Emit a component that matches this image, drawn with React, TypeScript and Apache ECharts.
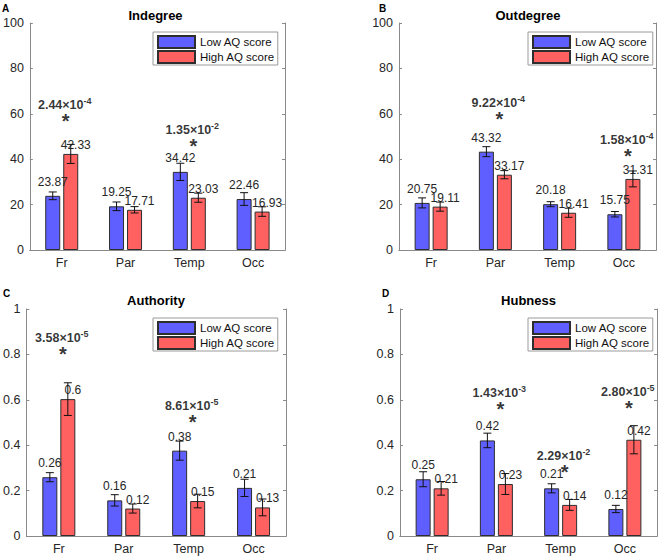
import React, { useEffect, useRef } from 'react';
import * as echarts from 'echarts';

const categories = ['Fr', 'Par', 'Temp', 'Occ'];
const seriesNames = ['Low AQ score', 'High AQ score'];
const panelTitles = ['Indegree', 'Outdegree', 'Authority', 'Hubness'];
const panelLetters = ['A', 'B', 'C', 'D'];

// A: Indegree
const indegreeLow = [23.87, 19.25, 34.42, 22.46];
const indegreeHigh = [42.33, 17.71, 23.03, 16.93];
const indegreeLowErr = [1.7, 1.9, 3.8, 2.8];
const indegreeHighErr = [4.2, 1.4, 2.0, 2.1];
const indegreeSigCat = [0, 2];
const indegreeSigY = [58.4, 47.7];
const indegreeSigMant = ['2.44', '1.35'];
const indegreeSigExp = ['-4', '-2'];

// B: Outdegree
const outdegreeLow = [20.75, 43.32, 20.18, 15.75];
const outdegreeHigh = [19.11, 33.17, 16.41, 31.31];
const outdegreeLowErr = [2.2, 2.2, 1.1, 1.2];
const outdegreeHighErr = [2.0, 1.8, 2.0, 3.5];
const outdegreeSigCat = [1, 3];
const outdegreeSigY = [59.4, 43.3];
const outdegreeSigMant = ['9.22', '1.58'];
const outdegreeSigExp = ['-4', '-4'];

// C: Authority
const authorityLow = [0.259, 0.157, 0.376, 0.212];
const authorityHigh = [0.603, 0.121, 0.154, 0.126];
const authorityLowErr = [0.02, 0.025, 0.042, 0.038];
const authorityHighErr = [0.072, 0.02, 0.03, 0.037];
const authoritySigCat = [0, 2];
const authoritySigY = [0.818, 0.519];
const authoritySigMant = ['3.58', '8.61'];
const authoritySigExp = ['-5', '-5'];

// D: Hubness
const hubnessLow = [0.25, 0.421, 0.21, 0.119];
const hubnessHigh = [0.21, 0.229, 0.137, 0.424];
const hubnessLowErr = [0.033, 0.032, 0.02, 0.016];
const hubnessHighErr = [0.03, 0.046, 0.024, 0.062];
const hubnessSigCat = [1, 2, 3];
const hubnessSigY = [0.578, 0.301, 0.581];
const hubnessSigMant = ['1.43', '2.29', '2.80'];
const hubnessSigExp = ['-3', '-2', '-5'];

const countAxisMax = 100;
const countAxisStep = 20;
const scoreAxisMax = 1;
const scoreAxisStep = 0.2;

const panels = [
  { low: indegreeLow, high: indegreeHigh, lowErr: indegreeLowErr, highErr: indegreeHighErr, sigCat: indegreeSigCat, sigY: indegreeSigY, sigMant: indegreeSigMant, sigExp: indegreeSigExp, max: countAxisMax, step: countAxisStep },
  { low: outdegreeLow, high: outdegreeHigh, lowErr: outdegreeLowErr, highErr: outdegreeHighErr, sigCat: outdegreeSigCat, sigY: outdegreeSigY, sigMant: outdegreeSigMant, sigExp: outdegreeSigExp, max: countAxisMax, step: countAxisStep },
  { low: authorityLow, high: authorityHigh, lowErr: authorityLowErr, highErr: authorityHighErr, sigCat: authoritySigCat, sigY: authoritySigY, sigMant: authoritySigMant, sigExp: authoritySigExp, max: scoreAxisMax, step: scoreAxisStep },
  { low: hubnessLow, high: hubnessHigh, lowErr: hubnessLowErr, highErr: hubnessHighErr, sigCat: hubnessSigCat, sigY: hubnessSigY, sigMant: hubnessSigMant, sigExp: hubnessSigExp, max: scoreAxisMax, step: scoreAxisStep },
];

const FONT = "'Liberation Sans', Arial, Helvetica, sans-serif";
const AXIS_COLOR = '#8a8a8a';
const TEXT_COLOR = '#262626';
const BLUE = '#5F5FFF';
const RED = '#FF6060';
const EDGE = '#2e2e2e';
const BAR_W = 15;
const BAR_GAP = 3;

const grids = [
  { left: 26, top: 23, width: 259, height: 227 },
  { left: 399, top: 23, width: 257, height: 227 },
  { left: 26, top: 309, width: 260, height: 227 },
  { left: 400, top: 309, width: 257, height: 227 },
];
const legendPos = [
  { left: 153, top: 32 },
  { left: 528, top: 32 },
  { left: 153, top: 318 },
  { left: 528, top: 318 },
];
const titlePos = [
  { x: 155.5, y: 15 },
  { x: 528, y: 15 },
  { x: 156, y: 300 },
  { x: 528.5, y: 300 },
];
const letterPos = [
  { x: 2, y: 8 },
  { x: 379, y: 8 },
  { x: 3, y: 293 },
  { x: 382, y: 293 },
];

function fmtLabel(v: number) {
  return String(Number(v.toFixed(2)));
}

function errorRenderer(offset: number) {
  return (params: any, api: any) => {
    const cat = api.value(0);
    const lo = api.value(1);
    const hi = api.value(2);
    const pTop = api.coord([cat, hi]);
    const pBot = api.coord([cat, lo]);
    const x = pTop[0] + offset;
    const cap = 4;
    const style = { stroke: '#111', lineWidth: 1 };
    return {
      type: 'group',
      children: [
        { type: 'line', shape: { x1: x, y1: pTop[1], x2: x, y2: pBot[1] }, style },
        { type: 'line', shape: { x1: x - cap, y1: pTop[1], x2: x + cap, y2: pTop[1] }, style },
        { type: 'line', shape: { x1: x - cap, y1: pBot[1], x2: x + cap, y2: pBot[1] }, style },
      ],
    };
  };
}

function buildOption() {
  const xAxis: any[] = [];
  const yAxis: any[] = [];
  const series: any[] = [];
  const legend: any[] = [];
  const graphic: any[] = [];

  panels.forEach((p, i) => {
    xAxis.push({
      type: 'category', gridIndex: i, data: categories, position: 'bottom',
      axisLine: { lineStyle: { color: AXIS_COLOR } },
      axisTick: { inside: true, alignWithLabel: true, length: 3, lineStyle: { color: AXIS_COLOR } },
      axisLabel: { color: TEXT_COLOR, fontSize: 12.5, fontFamily: FONT, margin: 6 },
    });
    xAxis.push({
      type: 'category', gridIndex: i, data: categories, position: 'top',
      axisLine: { lineStyle: { color: AXIS_COLOR } },
      axisTick: { inside: true, alignWithLabel: true, length: 3, lineStyle: { color: AXIS_COLOR } },
      axisLabel: { show: false },
    });
    yAxis.push({
      type: 'value', gridIndex: i, min: 0, max: p.max, interval: p.step, position: 'left',
      axisLine: { show: true, lineStyle: { color: AXIS_COLOR } },
      axisTick: { show: true, inside: true, length: 3, lineStyle: { color: AXIS_COLOR } },
      axisLabel: { color: TEXT_COLOR, fontSize: 12.5, fontFamily: FONT, margin: 6 },
      splitLine: { show: false },
    });
    yAxis.push({
      type: 'value', gridIndex: i, min: 0, max: p.max, interval: p.step, position: 'right',
      axisLine: { show: true, lineStyle: { color: AXIS_COLOR } },
      axisTick: { show: true, inside: true, length: 3, lineStyle: { color: AXIS_COLOR } },
      axisLabel: { show: false },
      splitLine: { show: false },
    });
    const xi = 2 * i;
    const yi = 2 * i;
    const barCommon = {
      type: 'bar', xAxisIndex: xi, yAxisIndex: yi, barWidth: BAR_W, barGap: '20%',
    };
    series.push({
      ...barCommon, name: seriesNames[0], data: p.low,
      itemStyle: { color: BLUE, borderColor: EDGE, borderWidth: 1 },
      label: { show: true, position: 'top', distance: 8, color: TEXT_COLOR, fontSize: 12, fontFamily: FONT, formatter: (q: any) => fmtLabel(q.value) },
      z: 2,
    });
    series.push({
      ...barCommon, name: seriesNames[1], data: p.high,
      itemStyle: { color: RED, borderColor: EDGE, borderWidth: 1 },
      label: { show: true, position: 'top', distance: 3, offset: [5, 0], color: TEXT_COLOR, fontSize: 12, fontFamily: FONT, formatter: (q: any) => fmtLabel(q.value) },
      z: 2,
    });
    const off = (BAR_W + BAR_GAP) / 2;
    series.push({
      type: 'custom', name: 'errLow' + i, xAxisIndex: xi, yAxisIndex: yi,
      renderItem: errorRenderer(-off), silent: true, z: 5,
      encode: { x: 0, y: [1, 2] },
      data: p.low.map((v, k) => [k, v - p.lowErr[k], v + p.lowErr[k]]),
    });
    series.push({
      type: 'custom', name: 'errHigh' + i, xAxisIndex: xi, yAxisIndex: yi,
      renderItem: errorRenderer(off), silent: true, z: 5,
      encode: { x: 0, y: [1, 2] },
      data: p.high.map((v, k) => [k, v - p.highErr[k], v + p.highErr[k]]),
    });
    series.push({
      type: 'scatter', name: 'star' + i, xAxisIndex: xi, yAxisIndex: yi,
      symbolSize: 0, silent: true, z: 6,
      data: p.sigCat.map((c, k) => [c, p.sigY[k]]),
      label: {
        show: true, position: 'inside', offset: [4, 4], formatter: '*',
        fontSize: 20, fontWeight: 'bold', color: '#000', fontFamily: FONT,
      },
    });
    series.push({
      type: 'scatter', name: 'pval' + i, xAxisIndex: xi, yAxisIndex: yi,
      symbolSize: 0, silent: true, z: 6,
      data: p.sigCat.map((c, k) => [c, p.sigY[k]]),
      label: {
        show: true, position: 'inside', offset: [3, -13],
        formatter: (q: any) => `{m|${p.sigMant[q.dataIndex]}×10}{s|${p.sigExp[q.dataIndex]}}`,
        rich: {
          m: { fontSize: 12.5, fontWeight: 'bold', color: '#000', fontFamily: FONT, verticalAlign: 'bottom' },
          s: { fontSize: 9, fontWeight: 'bold', color: '#000', fontFamily: FONT, verticalAlign: 'bottom', padding: [0, 0, 6, 0] },
        },
      },
    });

    legend.push({
      data: seriesNames, orient: 'vertical', left: legendPos[i].left, top: legendPos[i].top,
      itemWidth: 37, itemHeight: 12, itemGap: 1, padding: [3, 3, 1, 4],
      borderColor: '#9a9a9a', borderWidth: 1, backgroundColor: '#fff',
      selectedMode: false, icon: 'rect',
      textStyle: { fontSize: 11.5, color: '#111', fontFamily: FONT },
    });

    graphic.push({
      type: 'text', x: titlePos[i].x, y: titlePos[i].y,
      style: { text: panelTitles[i], textAlign: 'center', textVerticalAlign: 'middle', font: `bold 13px ${FONT}`, fill: '#000' },
    });
    graphic.push({
      type: 'text', x: letterPos[i].x, y: letterPos[i].y,
      style: { text: panelLetters[i], textAlign: 'left', textVerticalAlign: 'middle', font: `bold 10px ${FONT}`, fill: '#000' },
    });
  });

  return {
    animation: false,
    backgroundColor: '#fff',
    textStyle: { fontFamily: FONT },
    grid: grids.map((g) => ({ ...g, containLabel: false })),
    xAxis, yAxis, series, legend, graphic,
  };
}

export default function App() {
  const ref = useRef<HTMLDivElement>(null);
  useEffect(() => {
    document.body.style.margin = '0';
    if (!ref.current) return;
    const chart = echarts.init(ref.current, undefined, { renderer: 'svg' });
    chart.setOption(buildOption() as any);
    return () => chart.dispose();
  }, []);
  return <div ref={ref} style={{ width: 660, height: 558 }} />;
}
